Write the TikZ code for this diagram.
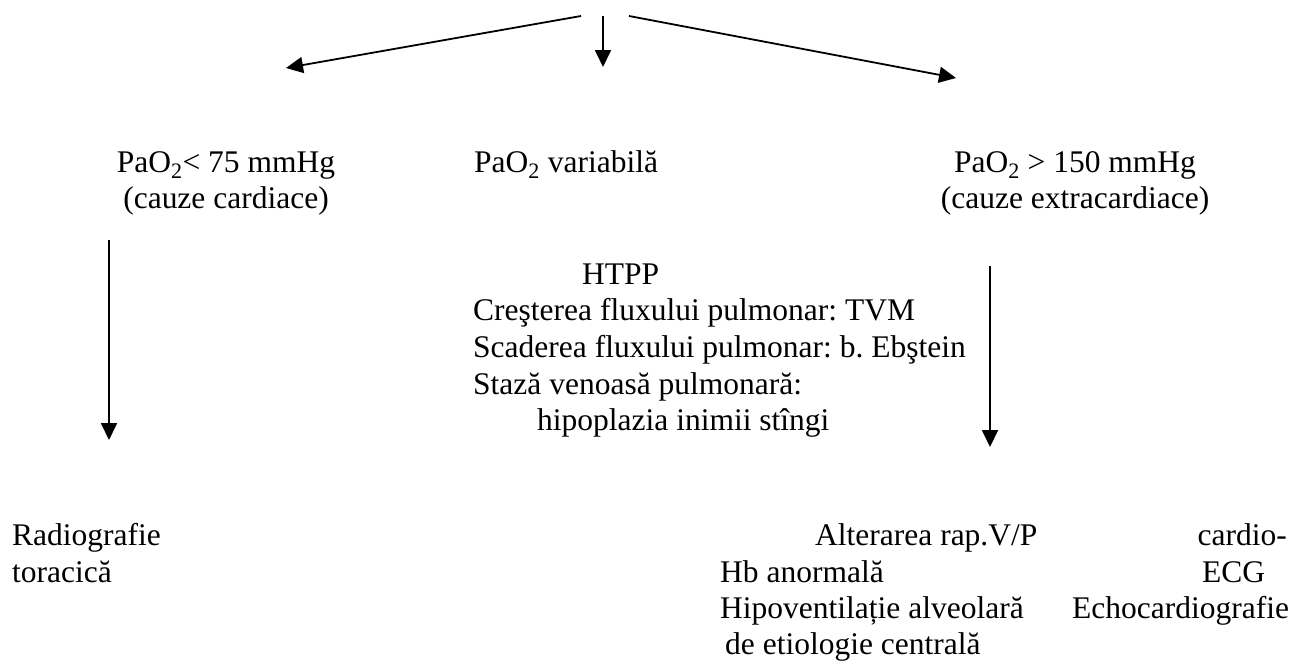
\documentclass[tikz,border=0pt]{standalone}
\usepackage{fontspec}
\setmainfont{Liberation Serif}
\usetikzlibrary{arrows.meta}
\frenchspacing
\begin{document}
\begin{tikzpicture}[x=1pt,y=-1pt,
  txt/.style={font=\fontsize{31.5}{36}\selectfont, inner sep=0pt, anchor=base west},
  ctr/.style={txt, anchor=base},
  rgt/.style={txt, anchor=base east},
  arr/.style={line width=1.8pt, -{Triangle[width=16pt,length=17pt]}}]
\useasboundingbox (0,0) rectangle (1293,662);

% branch origins and tips
\coordinate (srcL) at (581,16);
\coordinate (srcM) at (603,16);
\coordinate (srcR) at (629,16);
\coordinate (tipL) at (286,68);
\coordinate (tipM) at (603,67);
\coordinate (tipR) at (956,78);
\draw[arr] (srcL) -- (tipL);
\draw[arr] (srcM) -- (tipM);
\draw[arr] (srcR) -- (tipR);

% three PaO2 groups
\node[ctr] (card1) at (226,172) {PaO\textsubscript{2}< 75 mmHg};
\node[ctr] (card2) at (226,208) {(cauze cardiace)};
\node[txt] (var) at (474,172) {PaO\textsubscript{2} variabilă};
\node[ctr] (extra1) at (1075,172) {PaO\textsubscript{2} > 150 mmHg};
\node[ctr] (extra2) at (1075,208) {(cauze extracardiace)};

% vertical connectors
\coordinate (downL0) at (109,240);
\coordinate (downL1) at (109,440);
\coordinate (downR0) at (990,266);
\coordinate (downR1) at (990,447);
\draw[arr] (downL0) -- (downL1);
\draw[arr] (downR0) -- (downR1);

% central block
\node[txt] (htpp) at (582,284) {HTPP};
\node[txt] (cresc) at (473,320) {Creşterea fluxului pulmonar: TVM};
\node[txt] (scad) at (473,357) {Scaderea fluxului pulmonar: b. Ebştein};
\node[txt] (staza) at (473,394) {Stază venoasă pulmonară:};
\node[txt] (hipo) at (537,430) {hipoplazia inimii stîngi};

% investigations, left
\node[txt] (rad1) at (12,545) {Radiografie};
\node[txt] (rad2) at (12,582) {toracică};

% investigations, right
\node[txt] (alt) at (815,545) {Alterarea rap.V/P};
\node[rgt] (cardio) at (1287,545) {cardio-};
\node[txt] (hb) at (720,582) {Hb anormală};
\node[txt] (ecg) at (1202,582) {ECG};
\node[txt] (hipov) at (720,618) {Hipoventilație alveolară};
\node[txt] (echo) at (1072,618) {Echocardiografie};
\node[txt] (etio) at (725,654) {de etiologie centrală};
\end{tikzpicture}
\end{document}
